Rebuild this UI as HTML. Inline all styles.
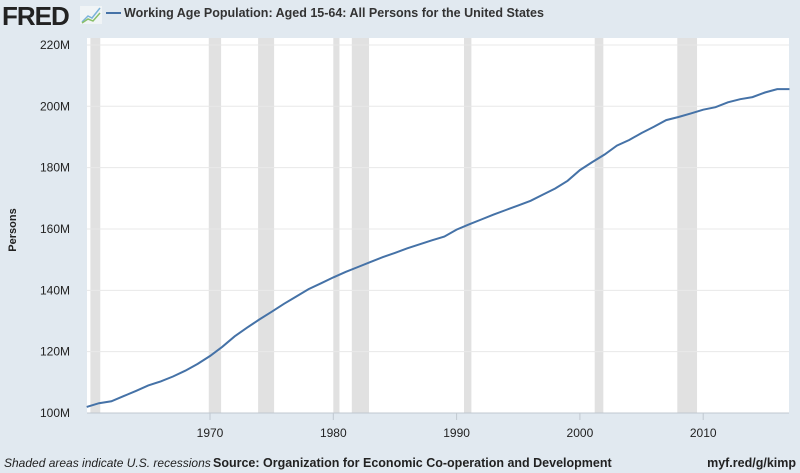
<!DOCTYPE html>
<html><head><meta charset="utf-8"><style>
body{margin:0;width:800px;height:473px;background:#e1e9f0;font-family:"Liberation Sans",sans-serif;overflow:hidden}
svg{display:block}
</style></head><body>
<svg width="800" height="473">
<text x="2" y="25" font-size="26" font-weight="bold" fill="#222" letter-spacing="-1">FRED</text>
<g><rect x="80" y="6" width="22" height="18" fill="#f0f4f6"/><polyline points="82,22 88,16 92,18 100,8" fill="none" stroke="#7bb3d9" stroke-width="1.5"/><polyline points="82,23 88,19 93,21 100,13" fill="none" stroke="#8ac06a" stroke-width="1.5"/></g>
<line x1="106" y1="13" x2="121" y2="13" stroke="#4572a7" stroke-width="2"/>
<text x="124" y="17" font-size="12.5" font-weight="bold" fill="#333">Working Age Population: Aged 15-64: All Persons for the United States</text>
<rect x="87" y="38" width="702" height="375" fill="#fff"/>
<g id="rec"></g><g id="grid"></g><g id="ylab"></g><g id="xlab"></g>
<path id="line" fill="none" stroke="#4572a7" stroke-width="2"/>
<line x1="87" y1="413" x2="789" y2="413" stroke="#c0c8d0"/>
<text transform="translate(16,230) rotate(-90)" text-anchor="middle" font-size="11" font-weight="bold" fill="#222">Persons</text>
<text x="4" y="467" font-size="12" font-style="italic" fill="#222">Shaded areas indicate U.S. recessions</text>
<text x="213" y="467" font-size="12.5" font-weight="bold" fill="#222">Source: Organization for Economic Co-operation and Development</text>
<text x="796" y="467" text-anchor="end" font-size="12.5" font-weight="bold" fill="#222">myf.red/g/kimp</text>
</svg>
<script>
const years=[];for(let y=1960;y<=2017;y++)years.push(y);
const values=[102.0,103.2,103.8,105.5,107.2,109.0,110.3,111.9,113.8,116.0,118.6,121.6,125.0,127.8,130.5,133.0,135.6,138.0,140.4,142.3,144.2,146.0,147.6,149.2,150.8,152.2,153.7,155.0,156.3,157.5,159.8,161.5,163.1,164.7,166.2,167.7,169.2,171.2,173.2,175.7,179.2,181.8,184.3,187.2,189.0,191.3,193.3,195.5,196.5,197.7,198.9,199.7,201.3,202.3,203.0,204.5,205.6,205.6];
const yTicks=[100,120,140,160,180,200,220];
const xTicks=[1970,1980,1990,2000,2010];
const recStarts=[1960.3,1969.9,1973.9,1980.0,1981.5,1990.6,2001.2,2007.9];
const recEnds=[1961.1,1970.9,1975.2,1980.5,1982.9,1991.2,2001.9,2009.5];
const X=t=>86.7+(t-1960)*12.33, Y=v=>413-(v-100)*3.067;
const NS="http://www.w3.org/2000/svg";
function mk(tag,attrs,parent,txt){const e=document.createElementNS(NS,tag);for(const k in attrs)e.setAttribute(k,attrs[k]);if(txt!=null)e.textContent=txt;document.getElementById(parent).appendChild(e);return e;}
recStarts.forEach((s,i)=>{const r=mk('rect',{x:X(s),y:38,width:X(recEnds[i])-X(s),height:375,fill:'#e1e1e1'},'rec');

});
yTicks.forEach(v=>{const l=mk('line',{x1:87,x2:789,y1:Y(v),y2:Y(v),stroke:'#e8e8e8'},'grid');


const t=mk('text',{x:70,y:Y(v)+4,'text-anchor':'end','font-size':12,fill:'#222'},'ylab',v+'M');

});
xTicks.forEach(yr=>{const l=mk('line',{x1:X(yr),x2:X(yr),y1:413,y2:420,stroke:'#c0c8d0'},'xlab');


const t=mk('text',{x:X(yr),y:437,'text-anchor':'middle','font-size':12,fill:'#222'},'xlab',yr);

});
document.getElementById('line').setAttribute('d',values.map((v,i)=>(i?'L':'M')+X(years[i]).toFixed(1)+','+Y(v).toFixed(1)).join(''));
</script>
</body></html>
